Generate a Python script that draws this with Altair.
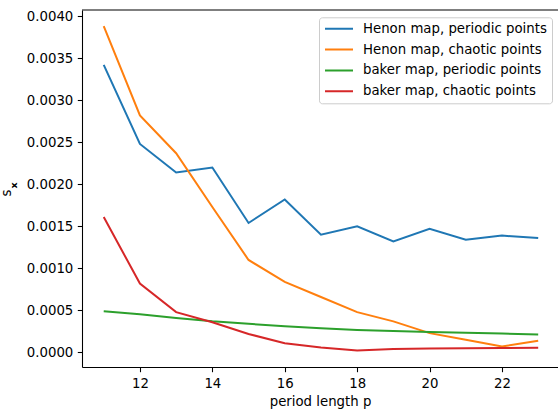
import altair as alt
import pandas as pd

# period length p on the x axis
period = list(range(11, 24))

# standard deviation s_x for each map / point type
henon_periodic = [0.00342, 0.00248, 0.00214, 0.00220, 0.00154, 0.00182, 0.00140,
                  0.00150, 0.00132, 0.00147, 0.00134, 0.00139, 0.00136]
henon_chaotic = [0.00388, 0.00282, 0.00237, 0.00173, 0.00110, 0.00084, 0.00066,
                 0.00048, 0.00037, 0.00023, 0.00015, 0.00007, 0.00014]
baker_periodic = [0.00049, 0.000455, 0.00041, 0.00037, 0.00034, 0.000313, 0.000288,
                  0.000267, 0.000255, 0.000242, 0.000233, 0.000225, 0.000215]
baker_chaotic = [0.00161, 0.00082, 0.00048, 0.00036, 0.00022, 0.00011, 0.00006,
                 0.000024, 0.00004, 0.000046, 0.00005, 0.000053, 0.000056]

series_names = [
    "Henon map, periodic points",
    "Henon map, chaotic points",
    "baker map, periodic points",
    "baker map, chaotic points",
]
series_colors = ["#1f77b4", "#ff7f0e", "#2ca02c", "#d62728"]

x_ticks = [12, 14, 16, 18, 20, 22]
y_ticks = [0.0, 0.0005, 0.0010, 0.0015, 0.0020, 0.0025, 0.0030, 0.0035, 0.0040]

rows = []
for name, values in zip(series_names,
                        [henon_periodic, henon_chaotic, baker_periodic, baker_chaotic]):
    for p, s in zip(period, values):
        rows.append({"p": p, "s": s, "series": name})
df = pd.DataFrame(rows)

FONT = "DejaVu Sans"
FS = 13.3
PLOT_W = 476
PLOT_H = 357

lines = alt.Chart(df).mark_line(strokeWidth=2, clip=True).encode(
    x=alt.X(
        "p:Q",
        scale=alt.Scale(domain=[10.4, 23.547], nice=False, zero=False),
        axis=alt.Axis(values=x_ticks, format="d", title="period length p"),
    ),
    y=alt.Y(
        "s:Q",
        scale=alt.Scale(domain=[-0.000173, 0.004073], nice=False, zero=False),
        axis=alt.Axis(values=y_ticks, format=".4f", title=None),
    ),
    color=alt.Color(
        "series:N",
        scale=alt.Scale(domain=series_names, range=series_colors),
        legend=alt.Legend(
            title=None,
            orient="none",
            legendX=237,
            legendY=7.3,
            symbolType="stroke",
            symbolSize=784,
            symbolStrokeWidth=2,
            labelFont=FONT,
            labelFontSize=FS,
            labelColor="black",
            labelOffset=9,
            labelLimit=300,
            padding=5,
            clipHeight=13,
            rowPadding=6.8,
            strokeColor="#cccccc",
            fillColor="rgba(255,255,255,0.8)",
            cornerRadius=3,
        ),
    ),
)

# top frame line of the plot area
top_spine = alt.Chart(pd.DataFrame({"k": [0]})).mark_rule(
    color="black", strokeWidth=1.07
).encode(x=alt.value(0), x2=alt.value(PLOT_W + 2), y=alt.value(0))

# y axis title: "s" with a bold subscript "x", written bottom-to-top
title_s = alt.Chart(pd.DataFrame({"t": ["s"]})).mark_text(
    angle=270, align="center", baseline="alphabetic",
    font=FONT, fontSize=FS, color="black",
).encode(text="t:N", x=alt.value(-70.7), y=alt.value(183))

title_x = alt.Chart(pd.DataFrame({"t": ["x"]})).mark_text(
    angle=270, align="center", baseline="alphabetic",
    font=FONT, fontSize=9.5, fontWeight="bold", color="black",
).encode(text="t:N", x=alt.value(-65.3), y=alt.value(175.5))

chart = alt.layer(lines, top_spine, title_s, title_x).properties(
    width=PLOT_W,
    height=PLOT_H,
    autosize="none",
    padding={"left": 82, "top": 10, "right": 0, "bottom": 43},
).configure_view(
    strokeWidth=0
).configure_axis(
    grid=False,
    domainColor="black",
    domainWidth=1.07,
    tickColor="black",
    tickWidth=1.07,
    tickSize=4.7,
    labelPadding=4.5,
    labelFont=FONT,
    labelFontSize=FS,
    labelColor="black",
    titleFont=FONT,
    titleFontSize=FS,
    titleFontWeight="normal",
    titleColor="black",
    titlePadding=5,
)

chart.save("out.html", embed_options={"renderer": "svg", "actions": False})
